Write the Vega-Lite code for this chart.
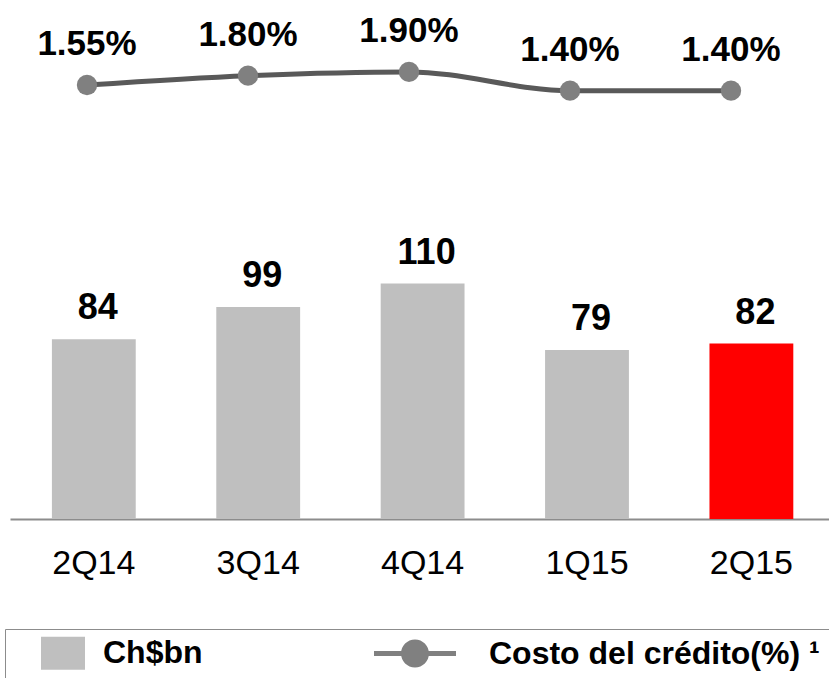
{
  "$schema": "https://vega.github.io/schema/vega-lite/v6.json",
  "width": 819,
  "height": 519,
  "autosize": "none",
  "padding": {"left": 10, "top": 0, "right": 0, "bottom": 159},
  "background": "white",
  "config": {"view": {"stroke": null}, "font": "Liberation Sans"},
  "data": {
    "values": [
      {"q": "2Q14", "v": 84, "c": 1.55, "cl": "1.55%", "s": "Ch$bn"},
      {"q": "3Q14", "v": 99, "c": 1.80, "cl": "1.80%", "s": "Ch$bn"},
      {"q": "4Q14", "v": 110, "c": 1.90, "cl": "1.90%", "s": "Ch$bn"},
      {"q": "1Q15", "v": 79, "c": 1.40, "cl": "1.40%", "s": "Ch$bn"},
      {"q": "2Q15", "v": 82, "c": 1.40, "cl": "1.40%", "s": "Ch$bn"}
    ]
  },
  "resolve": {"scale": {"x": "independent", "y": "independent"}},
  "layer": [
    {
      "encoding": {
        "x": {
          "field": "q", "type": "ordinal", "sort": null,
          "scale": {"paddingInner": 0.49, "paddingOuter": 0.236, "align": 0.54},
          "axis": {
            "title": null, "labelFontSize": 34, "labelFont": "Liberation Sans",
            "labelColor": "black", "ticks": false, "tickSize": 0, "labelPadding": 54,
            "labelBaseline": "alphabetic", "domainColor": "#8c8c8c", "domainWidth": 2,
            "labelAngle": 0, "grid": false
          }
        },
        "y": {
          "field": "v", "type": "quantitative",
          "scale": {"domain": [0, 242.5], "nice": false, "zero": true},
          "axis": null
        }
      },
      "layer": [
        {
          "mark": {"type": "bar"},
          "encoding": {
            "color": {
              "condition": {"test": "datum.q === '2Q15'", "value": "#ff0000"},
              "field": "s", "type": "nominal",
              "scale": {"domain": ["Ch$bn", "Costo del crédito(%) ¹"], "range": ["#bfbfbf", "#808080"]},
              "legend": {
                "title": null, "orient": "none", "legendX": -5, "legendY": 629,
                "direction": "horizontal", "strokeColor": "#8c8c8c", "padding": 10,
                "symbolSize": 784, "symbolOffset": 26, "labelOffset": 18, "columnPadding": 164,
                "labelFontSize": 32, "labelFontWeight": "bold", "labelColor": "black",
                "labelFont": "Liberation Sans", "labelLimit": 0,
                "encode": {
                  "symbols": {
                    "update": {
                      "shape": {"signal": "datum.index === 1 ? 'M-1,-0.256H1V-0.134H-1Z M0.341,-0.195A0.341,0.341 0 1,1 -0.341,-0.195A0.341,0.341 0 1,1 0.341,-0.195Z' : 'M-1,-1.114H1V0.386H-1Z'"},
                      "size": {"signal": "datum.index === 1 ? 6724 : 1936"},
                      "fill": {"signal": "datum.index === 1 ? {gradient: 'linear', x1: 0, y1: 0, x2: 1, y2: 0, stops: [{offset: 0, color: '#595959'}, {offset: 0.33, color: '#595959'}, {offset: 0.33, color: '#808080'}, {offset: 0.67, color: '#808080'}, {offset: 0.67, color: '#595959'}, {offset: 1, color: '#595959'}]} : '#bfbfbf'"},
                      "stroke": {"value": "transparent"},
                      "strokeWidth": {"value": 0},
                      "opacity": {"value": 1},
                      "fillOpacity": {"value": 1}
                    }
                  },
                  "labels": {"update": {"dx": {"signal": "datum.index === 1 ? 34 : 0"}, "dy": {"value": -8}}}
                }
              }
            }
          }
        },
        {
          "mark": {"type": "text", "dy": -20, "dx": 4, "baseline": "alphabetic", "fontSize": 36, "fontWeight": "bold", "font": "Liberation Sans", "color": "black"},
          "encoding": {"text": {"field": "v", "type": "quantitative"}}
        }
      ]
    },
    {
      "encoding": {
        "x": {
          "field": "q", "type": "ordinal", "sort": null,
          "scale": {"type": "point", "padding": 0.5435, "align": 0.44},
          "axis": null
        },
        "y": {
          "field": "c", "type": "quantitative",
          "scale": {"domain": [-10.023, 3.817], "nice": false, "zero": false},
          "axis": null
        }
      },
      "layer": [
        {"mark": {"type": "line", "interpolate": "monotone", "color": "#595959", "strokeWidth": 5}, "encoding": {}},
        {"mark": {"type": "point", "filled": true, "color": "#808080", "size": 415, "opacity": 1}, "encoding": {}},
        {
          "mark": {"type": "text", "dy": -30, "baseline": "alphabetic", "fontSize": 35, "fontWeight": "bold", "font": "Liberation Sans", "color": "black"},
          "encoding": {"text": {"field": "cl", "type": "nominal"}}
        }
      ]
    }
  ]
}
